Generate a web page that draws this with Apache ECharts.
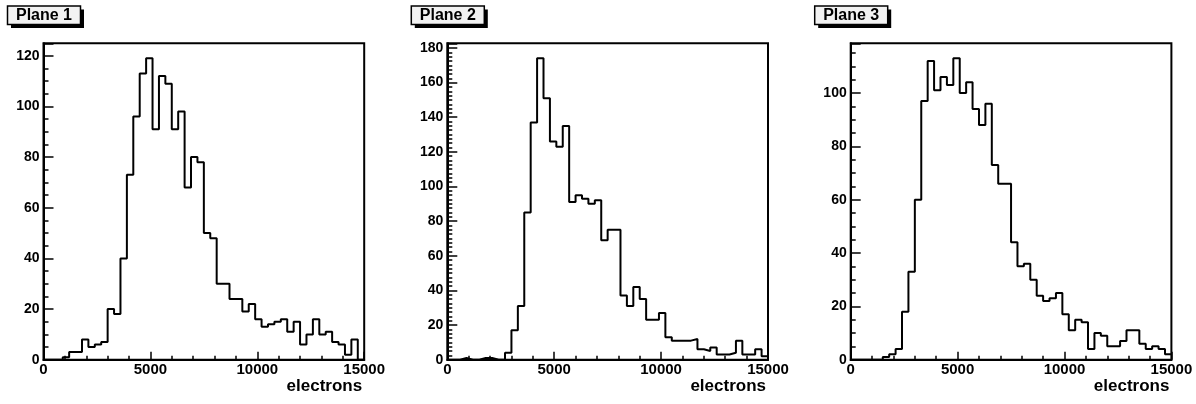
<!DOCTYPE html>
<html><head><meta charset="utf-8">
<script src="https://cdn.jsdelivr.net/npm/echarts@6/dist/echarts.min.js"></script>
<style>html,body{margin:0;padding:0;background:#fff}#c{width:1196px;height:404px}</style>
</head><body><div id="c"></div>
<script>
// ---- data ----
const binWidth = 300;           // electrons per bin
const xMin = 0, xMax = 15000;
const xInterval = 5000;
const yInterval = 20;
const planeTitles = ['Plane 1', 'Plane 2', 'Plane 3'];
const xAxisTitle = 'electrons';
const plane1 = [0,0,0,1,3,3,8,5,6,7, 20,18,40,73,96,113,119,91,112,109, 91,98,68,80,78,50,48,30,30,24, 24,19,22,16,13,14,15,16,11,15, 6,10,16,10,11,7,6,2,8,0];
const plane2 = [0,0,1,0,0,1,1,0,0,4, 17,31,85,137,174,151,126,123,135,91, 95,93,90,92,69,75,75,37,31,42, 35,23,23,27,13,11,11,11,12,6, 5,7,3,3,4,11,3,3,6,2];
const plane3 = [0,0,0,0,0,1,2,4,18,33, 60,97,112,101,106,103,113,100,104,94, 88,96,73,66,66,44,35,36,30,24, 22,23,25,17,11,15,14,4,10,9, 5,5,7,11,11,6,4,5,4,2];

// ---- chart ----
const FONT = '"Liberation Sans", Arial, Helvetica, sans-serif';
const planes = [plane1, plane2, plane3];
const gridLefts = [43.5, 447.3, 850.7];
const minorSplits = [4, 8, 4];
const gridTop = 43.3, gridW = 320.7, gridH = 316.4;

function steps(vals) {
  const pts = vals.map((v, i) => [xMin + i * binWidth, v]);
  pts.push([xMin + vals.length * binWidth, vals[vals.length - 1]]);
  return pts;
}

const grid = [], xAxis = [], yAxis = [], series = [], graphic = [];
planes.forEach((vals, k) => {
  grid.push({left: gridLefts[k], top: gridTop, width: gridW, height: gridH,
    show: true, borderColor: '#000', borderWidth: 2, backgroundColor: '#fff'});
  xAxis.push({type: 'value', gridIndex: k, min: xMin, max: xMax, interval: xInterval,
    axisLine: {show: true, onZero: false, lineStyle: {color: '#000', width: 2}},
    axisTick: {show: true, inside: true, length: 8, lineStyle: {color: '#000', width: 1.5}},
    minorTick: {show: true, splitNumber: 5, length: 4, lineStyle: {color: '#000', width: 1.5}},
    splitLine: {show: false},
    axisLabel: {color: '#000', fontFamily: FONT, fontWeight: 'bold', fontSize: 15, margin: 3,
      showMinLabel: true, showMaxLabel: true, formatter: v => String(v)},
    name: xAxisTitle, nameLocation: 'end', nameGap: 0,
    nameTextStyle: {color: '#000', fontFamily: FONT, fontWeight: 'bold', fontSize: 17,
      align: 'right', verticalAlign: 'top', padding: [18, 2, 0, 0]}
  });
  const yMax = Math.max(...vals) * 1.05;
  yAxis.push({type: 'value', gridIndex: k, min: 0, max: yMax, interval: yInterval,
    axisLine: {show: true, onZero: false, lineStyle: {color: '#000', width: 2}},
    axisTick: {show: true, inside: true, length: 10, lineStyle: {color: '#000', width: 1.5}},
    minorTick: {show: true, splitNumber: minorSplits[k], length: 5, lineStyle: {color: '#000', width: 1.5}},
    splitLine: {show: false},
    axisLabel: {color: '#000', fontFamily: FONT, fontWeight: 'bold', fontSize: 14, margin: 4,
      formatter: v => (Math.abs(v % yInterval) < 1e-9 ? String(v) : '')}
  });
  series.push({type: 'line', xAxisIndex: k, yAxisIndex: k, data: steps(vals), step: 'end',
    symbol: 'none', silent: true, animation: false,
    lineStyle: {color: '#000', width: 2}});
  const bx = gridLefts[k] - 36, by = 6, bw = 73, bh = 18.5;
  graphic.push({type: 'rect', shape: {x: bx + 3.5, y: by + 3.5, width: bw, height: bh}, style: {fill: '#000'}});
  graphic.push({type: 'rect', shape: {x: bx, y: by, width: bw, height: bh}, style: {fill: '#f2f2f2', stroke: '#000', lineWidth: 1.5}});
  graphic.push({type: 'text', x: bx + bw / 2, y: by + bh / 2 + 0.5,
    style: {text: planeTitles[k], fill: '#000', font: 'bold 16px ' + FONT, align: 'center', verticalAlign: 'middle'}});
});

const chart = echarts.init(document.getElementById('c'), null, {renderer: 'canvas'});
chart.setOption({animation: false, grid, xAxis, yAxis, series, graphic});
</script></body></html>
